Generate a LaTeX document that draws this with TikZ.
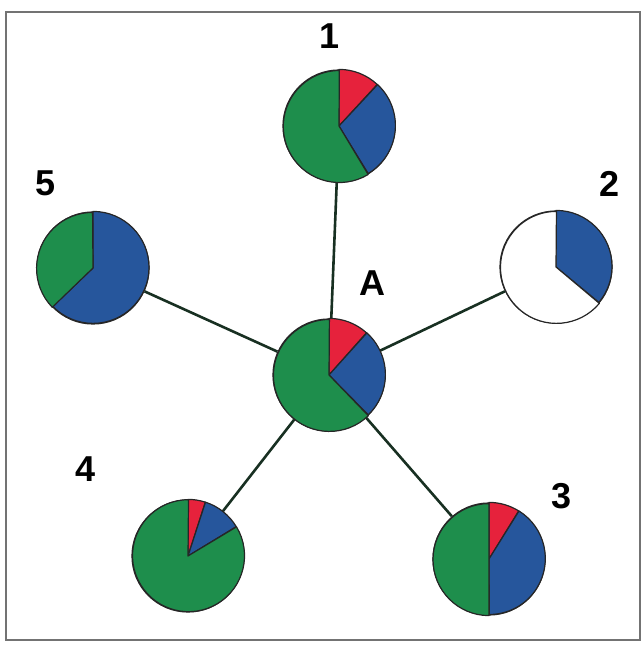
\documentclass[tikz,border=0pt]{standalone}
\usepackage{fontspec}
\setmainfont{Liberation Sans}
\usetikzlibrary{positioning}

\definecolor{piegreen}{RGB}{30,142,76}
\definecolor{pieblue}{RGB}{38,86,156}
\definecolor{piered}{RGB}{230,34,60}
\definecolor{linkcol}{RGB}{24,48,34}

\tikzset{
  pie/.style={circle, minimum size=112pt, inner sep=0pt, draw=black!85, line width=1.2pt},
  piece/.style={draw=black!85, line width=1.2pt, line join=round},
  link/.style={linkcol, line width=2.6pt},
  tag/.style={font=\fontsize{36}{36}\selectfont\bfseries}
}

% one slice: node, start angle, end angle, colour
\newcommand{\pieslice}[4]{%
  \filldraw[piece, fill=#4] (#1.center) -- (#1.#2) arc[start angle=#2, end angle=#3, radius=56pt] -- cycle;}

\begin{document}
\begin{tikzpicture}[x=1pt,y=1pt]
    \useasboundingbox (0,0) rectangle (643,646);
    \draw[black!55, line width=1.5pt] (6,6) rectangle (640,634);

    \node[pie] (A) at (329,271) {};
    \node[pie] (p1) at (339,520) {};
    \node[pie] (p2) at (556,379) {};
    \node[pie] (p3) at (489,87) {};
    \node[pie] (p4) at (188,90) {};
    \node[pie] (p5) at (93,378) {};

    \foreach \n in {p1,p2,p3,p4,p5} { \draw[link] (A) -- (\n); }

    \pieslice{A}{90}{48}{piered}
    \pieslice{A}{48}{-46}{pieblue}
    \pieslice{A}{-46}{-270}{piegreen}

    \pieslice{p1}{90}{47}{piered}
    \pieslice{p1}{47}{-59}{pieblue}
    \pieslice{p1}{-59}{-270}{piegreen}

    \pieslice{p2}{90}{-40}{pieblue}
    \pieslice{p2}{-40}{-270}{white}

    \pieslice{p3}{90}{58}{piered}
    \pieslice{p3}{58}{-90}{pieblue}
    \pieslice{p3}{-90}{-270}{piegreen}

    \pieslice{p4}{90}{72}{piered}
    \pieslice{p4}{72}{31}{pieblue}
    \pieslice{p4}{31}{-270}{piegreen}

    \pieslice{p5}{90}{-136}{pieblue}
    \pieslice{p5}{-136}{-270}{piegreen}

    \node[tag] (tA) at (372,363) {A};
    \node[tag] (t1) at (330,610) {1};
    \node[tag] (t2) at (610,462) {2};
    \node[tag] (t3) at (562,150) {3};
    \node[tag] (t4) at (86,177) {4};
    \node[tag] (t5) at (46,463) {5};
\end{tikzpicture}
\end{document}
